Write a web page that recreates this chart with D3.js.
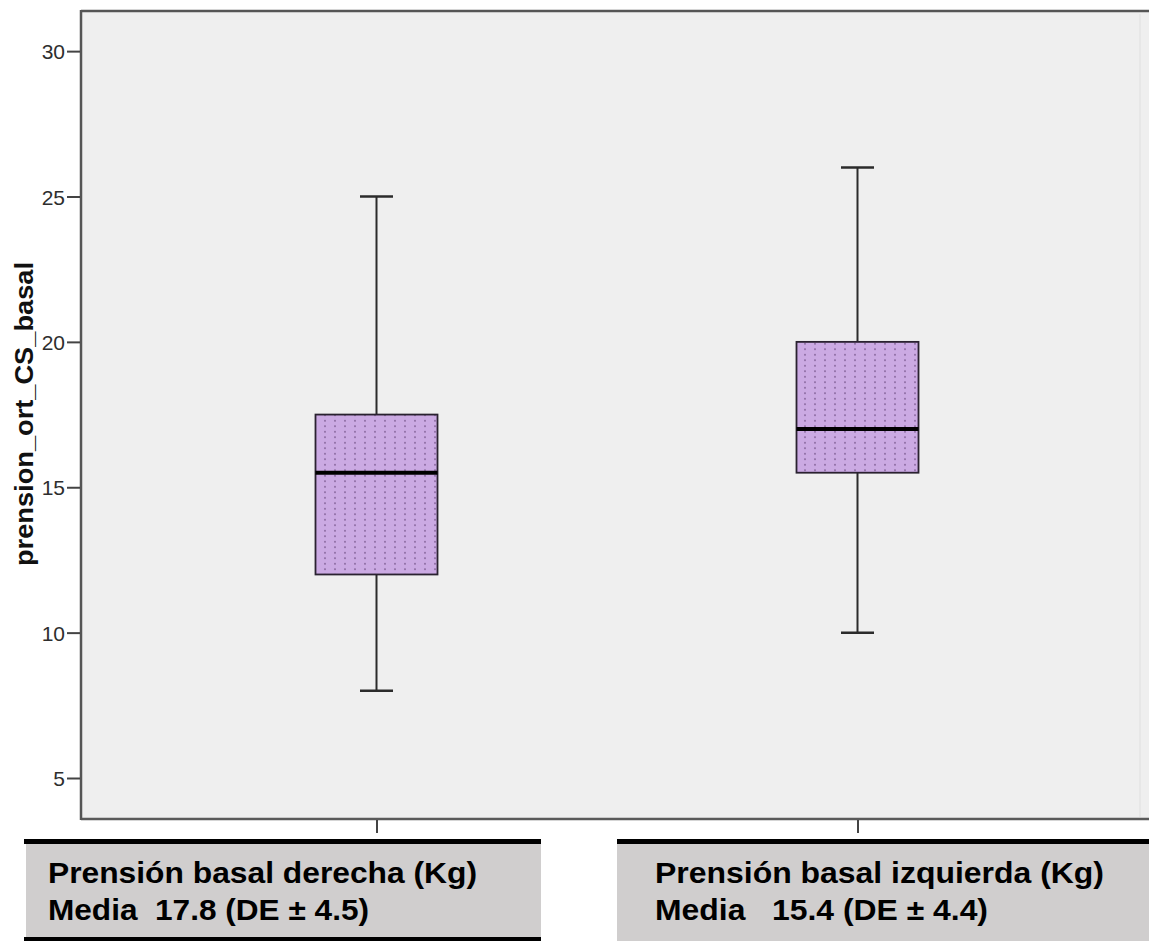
<!DOCTYPE html>
<html>
<head>
<meta charset="utf-8">
<script src="https://cdn.jsdelivr.net/npm/d3@7/dist/d3.min.js"></script>
<style>
  html, body { margin: 0; padding: 0; background: #ffffff; }
  svg { display: block; }
</style>
</head>
<body>
<svg id="chart" width="1149" height="941"></svg>
<script>
// ---- data ----
const categories = ["Prensión basal derecha", "Prensión basal izquierda"];
const whiskerLow  = [8, 10];
const q1Values    = [12, 15.5];
const medians     = [15.5, 17];
const q3Values    = [17.5, 20];
const whiskerHigh = [25, 26];
const yTicks = [5, 10, 15, 20, 25, 30];
const yTitle = "prension_ort_CS_basal";
const labelLine1 = ["Prensión basal derecha (Kg)", "Prensión basal izquierda (Kg)"];
const labelLine2 = ["Media  17.8 (DE ± 4.5)", "Media   15.4 (DE ± 4.4)"];

// ---- layout ----
const W = 1149, H = 941;
const plot = { left: 81, top: 11, right: 1149, bottom: 819 };
const svg = d3.select("#chart");

const y = d3.scaleLinear().domain([3.59, 31.38]).range([plot.bottom, plot.top]);
const x = d3.scalePoint().domain(categories).range([376.5, 857.5]).padding(0);
const boxW = 122, capW = 33;

// pattern for box fill
const defs = svg.append("defs");
const pat = defs.append("pattern").attr("id", "dots")
  .attr("patternUnits", "userSpaceOnUse").attr("width", 10).attr("height", 5.5);
pat.append("rect").attr("width", 10).attr("height", 5.5).attr("fill", "#cbaae3");
pat.append("circle").attr("cx", 5).attr("cy", 2.75).attr("r", 0.9).attr("fill", "#7d5d93");

// plot background
svg.append("rect").attr("x", plot.left).attr("y", plot.top)
  .attr("width", plot.right - plot.left).attr("height", plot.bottom - plot.top)
  .attr("fill", "#efefef");
// faint right edge line
svg.append("line").attr("x1", 1140).attr("x2", 1140).attr("y1", plot.top + 3).attr("y2", plot.bottom - 2)
  .attr("stroke", "#e7e7e7").attr("stroke-width", 2);

// frame
svg.append("line").attr("x1", plot.left).attr("x2", plot.right).attr("y1", plot.top).attr("y2", plot.top)
  .attr("stroke", "#555").attr("stroke-width", 2.5);
svg.append("line").attr("x1", plot.left).attr("x2", plot.right).attr("y1", plot.bottom).attr("y2", plot.bottom)
  .attr("stroke", "#5a5a5a").attr("stroke-width", 2.5);
svg.append("line").attr("x1", plot.left).attr("x2", plot.left).attr("y1", plot.top - 1).attr("y2", plot.bottom + 1)
  .attr("stroke", "#555").attr("stroke-width", 2.5);

// y axis
const yAxis = svg.append("g").attr("transform", `translate(${plot.left - 1},0)`)
  .call(d3.axisLeft(y).tickValues(yTicks).tickSize(13).tickPadding(2).tickFormat(d3.format("d")));
yAxis.select(".domain").remove();
yAxis.selectAll(".tick line").attr("stroke", "#444").attr("stroke-width", 2);
yAxis.selectAll(".tick text").attr("fill", "#2e2e2e")
  .style("font-family", "'Liberation Sans', Arial, sans-serif").style("font-size", "21px")
  .attr("dy", "0.36em");

// x axis (ticks only)
const xAxis = svg.append("g").attr("transform", `translate(0,${plot.bottom + 1})`)
  .call(d3.axisBottom(x).tickSize(13).tickFormat(""));
xAxis.select(".domain").remove();
xAxis.selectAll(".tick line").attr("stroke", "#444").attr("stroke-width", 2);

// y title
svg.append("text")
  .attr("transform", `translate(33,414) rotate(-90)`)
  .attr("text-anchor", "middle")
  .attr("textLength", 304).attr("lengthAdjust", "spacingAndGlyphs")
  .style("font-family", "'Liberation Sans', Arial, sans-serif")
  .style("font-size", "26px").style("font-weight", "bold").attr("fill", "#111")
  .text(yTitle);

// boxes
const data = categories.map((c, i) => ({
  c, lo: whiskerLow[i], q1: q1Values[i], med: medians[i], q3: q3Values[i], hi: whiskerHigh[i]
}));
const g = svg.selectAll("g.box").data(data).join("g").attr("class", "box");
const lineCol = "#2b2b2b";
g.append("line").attr("x1", d => x(d.c)).attr("x2", d => x(d.c))
  .attr("y1", d => y(d.hi)).attr("y2", d => y(d.q3)).attr("stroke", lineCol).attr("stroke-width", 2);
g.append("line").attr("x1", d => x(d.c)).attr("x2", d => x(d.c))
  .attr("y1", d => y(d.q1)).attr("y2", d => y(d.lo)).attr("stroke", lineCol).attr("stroke-width", 2);
g.append("line").attr("x1", d => x(d.c) - capW / 2).attr("x2", d => x(d.c) + capW / 2)
  .attr("y1", d => y(d.hi)).attr("y2", d => y(d.hi)).attr("stroke", lineCol).attr("stroke-width", 2.5);
g.append("line").attr("x1", d => x(d.c) - capW / 2).attr("x2", d => x(d.c) + capW / 2)
  .attr("y1", d => y(d.lo)).attr("y2", d => y(d.lo)).attr("stroke", lineCol).attr("stroke-width", 2.5);
g.append("rect").attr("x", d => x(d.c) - boxW / 2).attr("width", boxW)
  .attr("y", d => y(d.q3)).attr("height", d => y(d.q1) - y(d.q3))
  .attr("fill", "url(#dots)").attr("stroke", "#2a2230").attr("stroke-width", 1.8);
g.append("line").attr("x1", d => x(d.c) - boxW / 2).attr("x2", d => x(d.c) + boxW / 2)
  .attr("y1", d => y(d.med)).attr("y2", d => y(d.med)).attr("stroke", "#000").attr("stroke-width", 4);

// label boxes
const boxes = [
  { x0: 24, x1: 541, gx0: 26, bottomBar: true, tx: 48, w1: 429, w2: 321 },
  { x0: 617, x1: 1149, gx0: 617, bottomBar: false, tx: 655, w1: 449, w2: 333 }
];
boxes.forEach((b, i) => {
  svg.append("rect").attr("x", b.gx0).attr("y", 843).attr("width", b.x1 - b.gx0)
    .attr("height", b.bottomBar ? 94 : 98).attr("fill", "#d0cece");
  svg.append("rect").attr("x", b.x0).attr("y", 839).attr("width", b.x1 - b.x0).attr("height", 5).attr("fill", "#000");
  if (b.bottomBar)
    svg.append("rect").attr("x", b.x0).attr("y", 937).attr("width", b.x1 - b.x0).attr("height", 4).attr("fill", "#000");
  const fam = i === 0 ? "'Liberation Sans', Arial, sans-serif" : "'Liberation Sans Narrow', 'Liberation Sans', Arial, sans-serif";
  svg.append("text").attr("x", b.tx).attr("y", 883)
    .attr("textLength", b.w1).attr("lengthAdjust", "spacingAndGlyphs")
    .style("font-family", fam).style("font-size", "29px").style("font-weight", "bold")
    .style("white-space", "pre").attr("fill", "#000").text(labelLine1[i]);
  svg.append("text").attr("x", b.tx).attr("y", 920)
    .attr("textLength", b.w2).attr("lengthAdjust", "spacingAndGlyphs")
    .style("font-family", fam).style("font-size", "29px").style("font-weight", "bold")
    .style("white-space", "pre").attr("fill", "#000").text(labelLine2[i]);
});
</script>
</body>
</html>
